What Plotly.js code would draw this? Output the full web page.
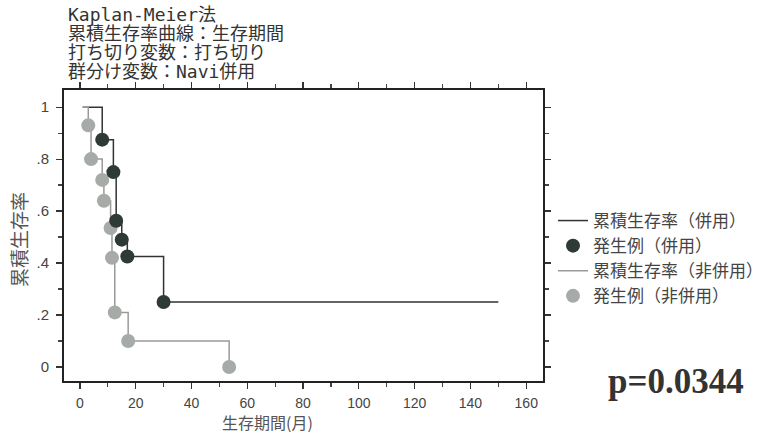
<!DOCTYPE html>
<html>
<head>
<meta charset="utf-8">
<script src="https://cdn.plot.ly/plotly-3.0.1.min.js"></script>
<style>html,body{margin:0;padding:0;background:#fff;}#chart{width:783px;height:435px;}</style>
</head>
<body>
<div id="chart"></div>
<script>
// 併用 group (combined)
const heiyouTime = [1, 8, 12, 13, 15, 17, 30, 150];
const heiyouSurv = [1, 0.875, 0.75, 0.5625, 0.49, 0.425, 0.25, 0.25];
const heiyouEventTime = [8, 12, 13, 15, 17, 30];
const heiyouEventSurv = [0.875, 0.75, 0.5625, 0.49, 0.425, 0.25];
// 非併用 group
const hiHeiyouTime = [1, 3, 4, 8, 8.6, 11, 11.5, 12.5, 17.3, 53.5];
const hiHeiyouSurv = [1, 0.93, 0.8, 0.72, 0.64, 0.535, 0.42, 0.21, 0.1, 0];
const hiHeiyouEventTime = [3, 4, 8, 8.6, 11, 11.5, 12.5, 17.3, 53.5];
const hiHeiyouEventSurv = [0.93, 0.8, 0.72, 0.64, 0.535, 0.42, 0.21, 0.1, 0];

const xTicks = [0, 20, 40, 60, 80, 100, 120, 140, 160];
const yTicks = [0, 0.2, 0.4, 0.6, 0.8, 1];
const yTickText = ['0', '.2', '.4', '.6', '.8', '1'];
const legendNames = ['累積生存率（併用）', '発生例（併用）', '累積生存率（非併用）', '発生例（非併用）'];
const titleLines = ['Kaplan-Meier法', '累積生存率曲線：生存期間', '打ち切り変数：打ち切り', '群分け変数：Navi併用'];

const darkMarker = '#2d3a36';
const lightMarker = '#a7aba8';
const cjk = '"Noto Sans CJK JP", sans-serif';

const traces = [
  {x: heiyouTime, y: heiyouSurv, mode: 'lines', line: {shape: 'hv', color: '#333333', width: 1.5}, name: legendNames[0], legendrank: 1},
  {x: hiHeiyouTime, y: hiHeiyouSurv, mode: 'lines', line: {shape: 'hv', color: '#9a9a9a', width: 1.5}, name: legendNames[2], legendrank: 3},
  {x: hiHeiyouEventTime, y: hiHeiyouEventSurv, mode: 'markers', marker: {color: lightMarker, size: 14}, name: legendNames[3], legendrank: 4},
  {x: heiyouEventTime, y: heiyouEventSurv, mode: 'markers', marker: {color: darkMarker, size: 14}, name: legendNames[1], legendrank: 2}
];

const W = 783, H = 435, L = 64, R = 240, T = 90, B = 54;
const pw = W - L - R, ph = H - T - B;
function px2x(px){ return (px - L) / pw; }
function py2y(py){ return (H - B - py) / ph; }

const annotations = titleLines.map((t, i) => ({
  text: t, xref: 'paper', yref: 'paper', x: px2x(66), y: py2y(14 + i * 19.3),
  xanchor: 'left', yanchor: 'middle', showarrow: false,
  font: {family: '"DejaVu Sans Mono", "Noto Sans CJK JP", monospace', size: 18, color: '#333'}
}));
annotations.push({
  text: '累積生存率', xref: 'paper', yref: 'paper', x: px2x(19), y: py2y(240),
  xanchor: 'center', yanchor: 'middle', textangle: -90, showarrow: false,
  font: {family: cjk, size: 19, color: '#555'}
});
annotations.push({
  text: '生存期間(月)', xref: 'paper', yref: 'paper', x: px2x(267), y: py2y(422),
  xanchor: 'center', yanchor: 'middle', showarrow: false,
  font: {family: cjk, size: 16, color: '#555'}
});
annotations.push({
  text: '<b>p=0.0344</b>', xref: 'paper', yref: 'paper', x: px2x(676), y: py2y(381),
  xanchor: 'center', yanchor: 'middle', showarrow: false,
  font: {family: '"Liberation Serif", serif', size: 35, color: '#333'}
});

const layout = {
  width: W, height: H,
  margin: {l: L, r: R, t: T, b: B, pad: 0},
  paper_bgcolor: '#ffffff', plot_bgcolor: '#ffffff',
  showlegend: true,
  legend: {x: px2x(553), y: py2y(203), xanchor: 'left', yanchor: 'top',
    font: {family: cjk, size: 17, color: '#444'}, bgcolor: 'rgba(0,0,0,0)',
    itemwidth: 30, tracegroupgap: 0},
  xaxis: {range: [-5.7, 166], tickvals: xTicks, showgrid: false, zeroline: false,
    showline: true, linecolor: '#222', linewidth: 2, mirror: 'ticks',
    ticks: 'outside', ticklen: 6, tickcolor: '#333', tickwidth: 1.2, ticklabelstandoff: 2,
    minor: {dtick: 10, tick0: 0, ticks: 'outside', ticklen: 4, tickcolor: '#444', showgrid: false},
    tickfont: {family: '"Liberation Sans", Arial, sans-serif', size: 14, color: '#444'}},
  yaxis: {range: [-0.054, 1.066], tickvals: yTicks, ticktext: yTickText, showgrid: false, zeroline: false,
    showline: true, linecolor: '#222', linewidth: 2, mirror: 'ticks',
    ticks: 'outside', ticklen: 6, tickcolor: '#333', tickwidth: 1.2, ticklabelstandoff: 4,
    minor: {dtick: 0.1, tick0: 0, ticks: 'outside', ticklen: 4, tickcolor: '#444', showgrid: false},
    tickfont: {family: '"Liberation Sans", Arial, sans-serif', size: 15, color: '#444'}},
  annotations: annotations
};

Plotly.newPlot('chart', traces, layout, {displayModeBar: false, staticPlot: true});
</script>
</body>
</html>
